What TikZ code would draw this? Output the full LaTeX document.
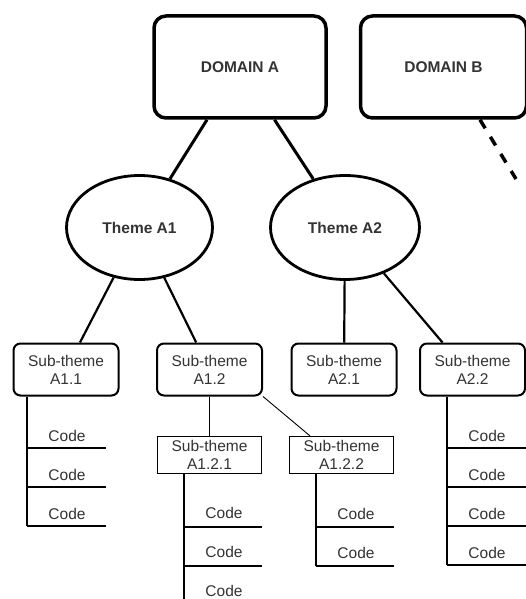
\documentclass[tikz,border=0pt]{standalone}
\usepackage{fontspec}
\setmainfont{Liberation Sans}
\usetikzlibrary{shapes.geometric}

\definecolor{txtgray}{gray}{0.2}

\begin{document}
\begin{tikzpicture}[x=1pt, y=-1pt,
    every node/.style={text=txtgray, font=\fontsize{15.5}{18}\selectfont},
    dombox/.style={draw, line width=3.5pt, rounded corners=12pt,
        minimum width=172pt, minimum height=102pt,
        font=\fontsize{15.5}{18}\selectfont\bfseries},
    themebox/.style={draw, ellipse, line width=2.8pt,
        minimum width=146pt, minimum height=104pt,
        font=\fontsize{15.5}{18}\selectfont\bfseries},
    subbox/.style={draw, line width=2pt, rounded corners=7pt, align=center,
        minimum width=105pt, minimum height=52pt},
    subsubbox/.style={draw, line width=1.2pt, align=center, inner sep=1pt,
        minimum width=104pt, minimum height=37pt},
    codeline/.style={line width=1.4pt}]

\clip (0,0) rectangle (526,599);
\useasboundingbox (0,0) rectangle (526,599);


\node[dombox] (domA) at (240,67) {DOMAIN A};
\node[dombox, minimum width=166pt] (domB) at (443.5,67) {DOMAIN B};

\node[themebox] (thA1) at (139.5,227.5) {Theme A1};
\node[themebox, minimum width=149pt] (thA2) at (345,227.5) {Theme A2};

\node[subbox] (sA11) at (66,369.5) {Sub-theme\\A1.1};
\node[subbox] (sA12) at (209.5,369.5) {Sub-theme\\A1.2};
\node[subbox] (sA21) at (344,369.5) {Sub-theme\\A2.1};
\node[subbox] (sA22) at (472.5,369.5) {Sub-theme\\A2.2};

\node[subsubbox] (sA121) at (209.5,455) {Sub-theme\\A1.2.1};
\node[subsubbox] (sA122) at (341.5,455) {Sub-theme\\A1.2.2};


\draw[line width=3pt] (domA) -- (thA1);
\draw[line width=3pt] (domA) -- (thA2);

\coordinate (domBtail) at (516,179);
\draw[line width=3.5pt, dash pattern=on 10pt off 10pt] ([xshift=36.5pt]domB.south) -- (domBtail);


\draw[line width=2.2pt] (thA1) -- (sA11);
\draw[line width=2.2pt] (thA1) -- (sA12);
\draw[line width=2.2pt] (thA2) -- (sA21);
\draw[line width=2.2pt] (thA2) -- ([xshift=-30pt]sA22.north);

\draw[line width=1.5pt] (sA12) -- (sA121);
\draw[line width=0.9pt] (sA12.south east) -- ([xshift=-31.5pt]sA122.north);


% codes under A1.1
\coordinate (v11) at (27,526);
\draw[codeline] (v11 |- sA11.south) -- (v11);
\foreach \k in {1,2,3}{
    \node (c11-\k) at (67,{397+39*\k}) {Code};
    \coordinate (e11-\k) at (106,{409+39*\k});
    \draw[codeline] (v11 |- e11-\k) -- (e11-\k);
}

% codes under A1.2.1
\coordinate (v121) at (184,599);
\draw[codeline] (v121 |- sA121.south) -- (v121);
\foreach \k in {1,2,3}{
    \node (c121-\k) at (224,{474.5+38.7*\k}) {Code};
}
\foreach \k in {1,2}{
    \coordinate (e121-\k) at (262,{488+39*\k});
    \draw[codeline] (v121 |- e121-\k) -- (e121-\k);
}

% codes under A1.2.2
\coordinate (v122) at (316,566);
\draw[codeline] (v122 |- sA122.south) -- (v122);
\foreach \k in {1,2}{
    \node (c122-\k) at (356,{475+39*\k}) {Code};
    \coordinate (e122-\k) at (394,{488+39*\k});
    \draw[codeline] (v122 |- e122-\k) -- (e122-\k);
}

% codes under A2.2
\coordinate (v22) at (447,565);
\draw[codeline] (v22 |- sA22.south) -- (v22);
\foreach \k in {1,...,4}{
    \node (c22-\k) at (487,{397+39*\k}) {Code};
    \coordinate (e22-\k) at (527,{409+39*\k});
    \draw[codeline] (v22 |- e22-\k) -- (e22-\k);
}

\end{tikzpicture}
\end{document}
